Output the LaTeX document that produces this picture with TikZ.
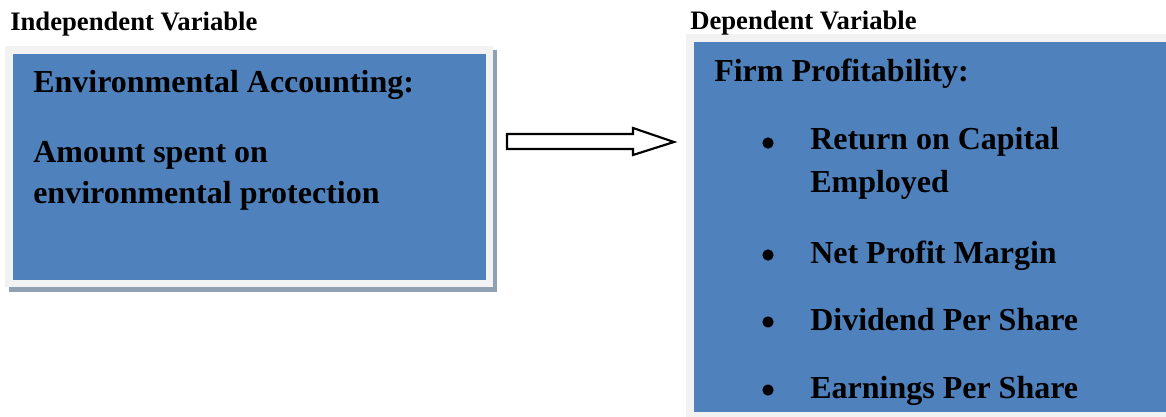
\documentclass[tikz,border=0pt]{standalone}
\usepackage{fontspec}
\setmainfont{Liberation Serif}
\definecolor{boxblue}{HTML}{4F81BD}
\definecolor{framegray}{HTML}{F2F2F2}
\definecolor{shadowgray}{HTML}{8FA0B3}
\begin{document}
\begin{tikzpicture}[x=0.75pt,y=-0.75pt,
  hdr/.style={anchor=base west,font=\bfseries\fontsize{20}{22}\selectfont,inner sep=0pt},
  main/.style={anchor=base west,font=\bfseries\fontsize{24}{28}\selectfont,inner sep=0pt},
  bul/.style={circle,fill=black,inner sep=0pt,minimum size=8.5pt}]
\useasboundingbox (0,0) rectangle (1166,417);
\fill[white] (0,0) rectangle (1166,417);
% left box
\fill[shadowgray] (9,50) rectangle (497,292);
\fill[framegray] (5,46) rectangle (493,287);
\node[fill=boxblue,inner sep=0pt,anchor=north west,minimum width=354.75pt,minimum height=169.5pt] (lbox) at (13,54) {};
% right box
\fill[framegray] (686,34) rectangle (1166,417);
\node[fill=boxblue,inner sep=0pt,anchor=north west,minimum width=354pt,minimum height=277.5pt] (rbox) at (694,42) {};
% headers
\node[hdr] (h1) at (10,31) {Independent Variable};
\node[hdr] (h2) at (690,30) {Dependent Variable};
% left text
\node[main] (t1) at (33,93) {Environmental Accounting:};
\node[main] (t2) at (33,162) {Amount spent on};
\node[main] (t3) at (33,203) {environmental protection};
% right text
\node[main] (r0) at (714,82) {Firm Profitability:};
\node[bul] (b1) at (768,143) {};
\node[main] (r1) at (810,150) {Return on Capital};
\node[main] (r1b) at (810,192) {Employed};
\node[bul] (b2) at (768,255) {};
\node[main] (r2) at (810,263) {Net Profit Margin};
\node[bul] (b3) at (768,322) {};
\node[main] (r3) at (810,330) {Dividend Per Share};
\node[bul] (b4) at (768,390) {};
\node[main] (r4) at (810,398) {Earnings Per Share};
% arrow
\draw[line width=1.6pt,fill=white,line join=miter]
  (507,134) -- (633,134) -- (633,128) -- (674,142) -- (633,155) -- (633,149) -- (507,149) -- cycle;
\end{tikzpicture}
\end{document}
